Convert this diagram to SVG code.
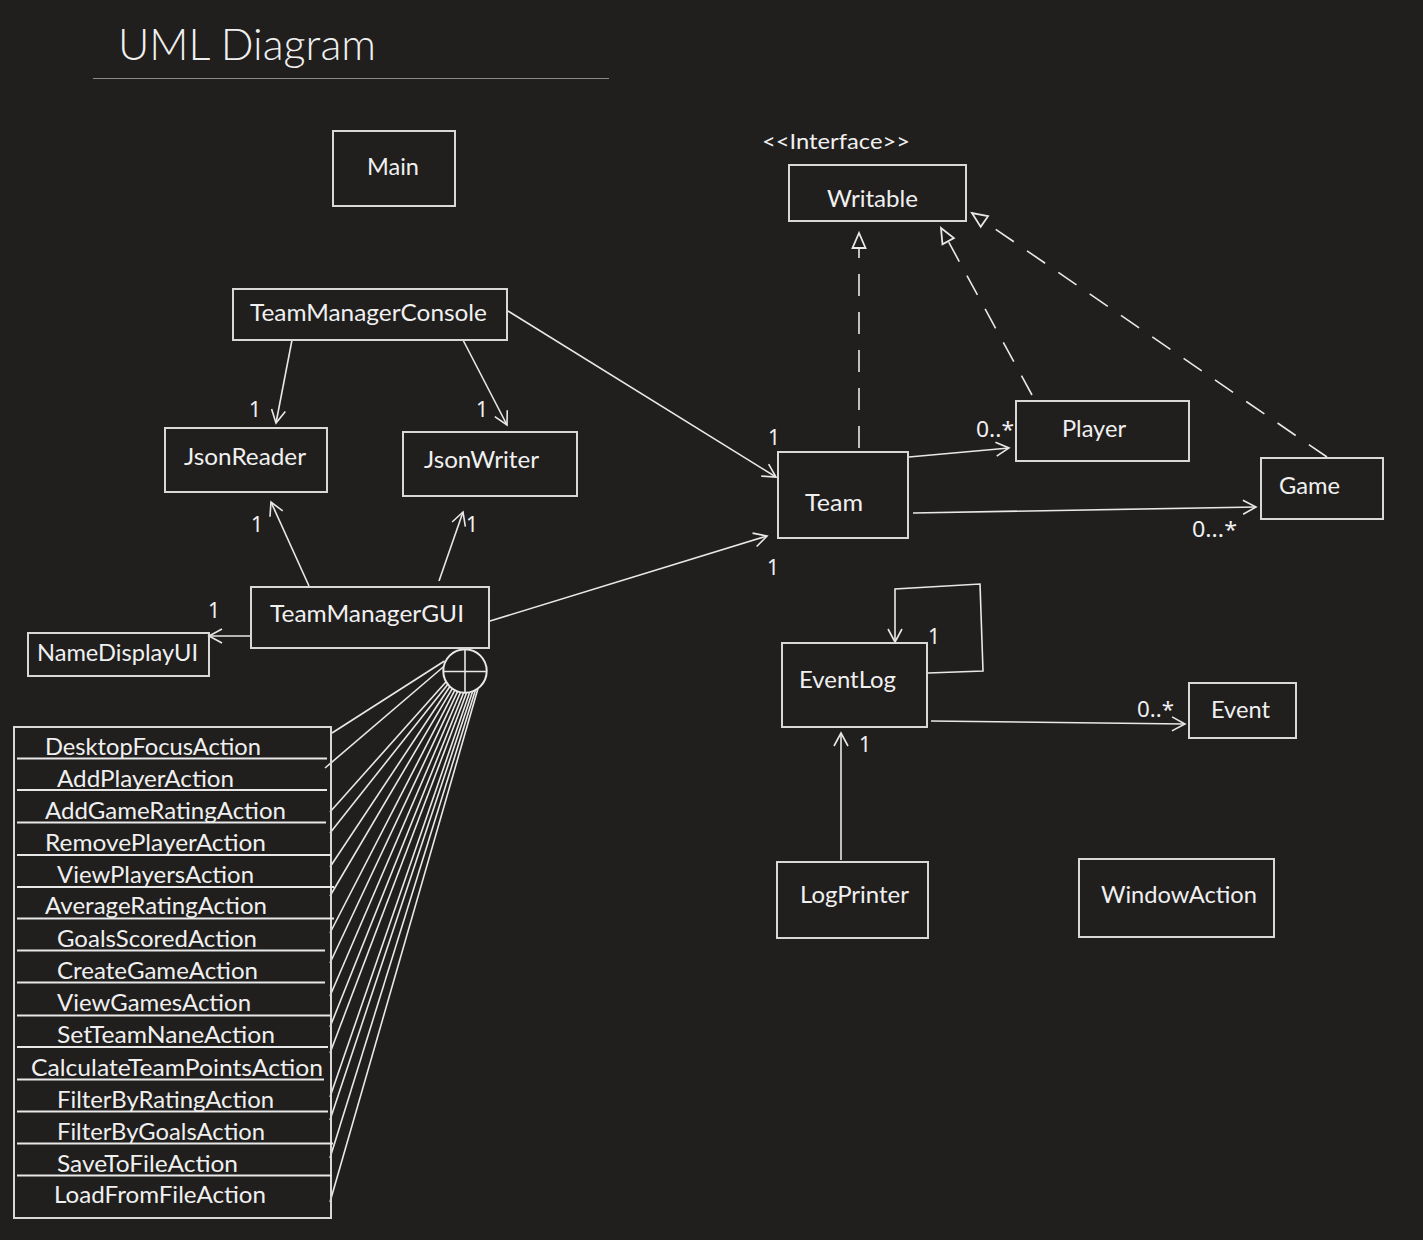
<svg xmlns="http://www.w3.org/2000/svg" width="1423" height="1240" viewBox="0 0 1423 1240">
<style>
text{font-family:Lato,"Liberation Sans",sans-serif;fill:#f0f0f0;font-size:24px}
.box{fill:none;stroke:#d8d8d8;stroke-width:2}
.ln{fill:none;stroke:#e8e8e8;stroke-width:1.6}
.dash{fill:none;stroke:#e8e8e8;stroke-width:1.6;stroke-dasharray:22 16}
.m{font-size:21px;font-family:"Noto Sans","Open Sans",sans-serif}
.sep{stroke:#e8e8e8;stroke-width:2}
.act{font-size:23px}
</style>
<defs>
<marker id="open" markerUnits="userSpaceOnUse" markerWidth="20" markerHeight="20" viewBox="-16 -10 20 20" refX="0" refY="0" orient="auto">
<path d="M-13,-7 L0,0 L-13,7" fill="none" stroke="#e8e8e8" stroke-width="1.6"/>
</marker>
<marker id="tri" markerUnits="userSpaceOnUse" markerWidth="22" markerHeight="22" viewBox="-18 -11 22 22" refX="0" refY="0" orient="auto">
<path d="M-15,-6.5 L0,0 L-15,6.5 Z" fill="#201f1e" stroke="#e8e8e8" stroke-width="1.8"/>
</marker>
</defs>
<rect width="1423" height="1240" fill="#201f1e"/>
<g id="title">
<text x="118" y="60" style="font-size:44px;font-weight:300" textLength="258" lengthAdjust="spacingAndGlyphs">UML Diagram</text>
<line x1="93" y1="78.5" x2="609" y2="78.5" stroke="#8a8a8a" stroke-width="1.2"/>
</g>
<g id="connectors">
<line class="ln" x1="292" y1="340" x2="276" y2="423" marker-end="url(#open)"/>
<line class="ln" x1="463" y1="340" x2="507" y2="425" marker-end="url(#open)"/>
<line class="ln" x1="508" y1="311" x2="776" y2="477" marker-end="url(#open)"/>
<line class="ln" x1="309" y1="586" x2="271" y2="502" marker-end="url(#open)"/>
<line class="ln" x1="439" y1="581" x2="463" y2="512" marker-end="url(#open)"/>
<line class="ln" x1="251" y1="636" x2="209" y2="636" marker-end="url(#open)"/>
<line class="ln" x1="490" y1="621" x2="767" y2="536" marker-end="url(#open)"/>
<line class="ln" x1="909" y1="457" x2="1009" y2="448" marker-end="url(#open)"/>
<line class="ln" x1="913" y1="513" x2="1256" y2="507" marker-end="url(#open)"/>
<line class="dash" x1="859" y1="448" x2="859" y2="233" marker-end="url(#tri)"/>
<line class="dash" x1="1032" y1="395" x2="941" y2="228" marker-end="url(#tri)"/>
<line class="dash" x1="1327" y1="457" x2="972" y2="213" marker-end="url(#tri)"/>
<path class="ln" d="M928,673 L983,671 L980,584 L895,589 L895,642" marker-end="url(#open)"/>
<line class="ln" x1="931" y1="721" x2="1185" y2="724" marker-end="url(#open)"/>
<line class="ln" x1="841" y1="860" x2="841" y2="733" marker-end="url(#open)"/>
<g id="nested-fan" class="ln">
<line x1="444.5" y1="661" x2="332" y2="733"/>
<line x1="443.2" y1="667" x2="325" y2="768"/>
<line x1="445.9" y1="682" x2="330" y2="812"/>
<line x1="447.7" y1="684.5" x2="330" y2="833"/>
<line x1="449.7" y1="686.8" x2="330" y2="867"/>
<line x1="452.1" y1="688.8" x2="330" y2="896"/>
<line x1="454.7" y1="690.4" x2="330" y2="933"/>
<line x1="457.5" y1="691.7" x2="330" y2="963"/>
<line x1="460.4" y1="692.5" x2="330" y2="996"/>
<line x1="463.5" y1="693" x2="330" y2="1027"/>
<line x1="466.5" y1="693" x2="330" y2="1053"/>
<line x1="469.6" y1="692.5" x2="330" y2="1097"/>
<line x1="472.5" y1="691.7" x2="330" y2="1120"/>
<line x1="475.3" y1="690.4" x2="330" y2="1158"/>
<line x1="477.9" y1="688.8" x2="330" y2="1202"/>
</g>
<circle class="ln" cx="465" cy="671" r="21.7" style="stroke-width:2"/>
<line class="ln" x1="465" y1="649.5" x2="465" y2="692.5"/>
<line class="ln" x1="443.5" y1="671.5" x2="486.5" y2="671.5"/>
<g id="multiplicities">
<text x="249" y="417" class="m">1</text>
<text x="476" y="417" class="m">1</text>
<text x="768" y="445" class="m">1</text>
<text x="251" y="532" class="m">1</text>
<text x="466" y="532" class="m">1</text>
<text x="208" y="618" class="m">1</text>
<text x="767" y="575" class="m">1</text>
<text x="976" y="437" class="m" textLength="38" lengthAdjust="spacingAndGlyphs">0..*</text>
<text x="1192" y="537" class="m" textLength="45" lengthAdjust="spacingAndGlyphs">0...*</text>
<text x="928" y="644" class="m">1</text>
<text x="1137" y="717" class="m" textLength="37" lengthAdjust="spacingAndGlyphs">0..*</text>
<text x="859" y="752" class="m">1</text>
</g>
</g>
<g id="Main"><rect class="box" x="333" y="131" width="122" height="75"/><text x="367" y="175" textLength="52" lengthAdjust="spacingAndGlyphs">Main</text></g>
<g id="Writable"><text x="762" y="149" style="font-size:22px" textLength="148" lengthAdjust="spacingAndGlyphs">&lt;&lt;Interface&gt;&gt;</text><rect class="box" x="789" y="165" width="177" height="56"/><text x="827" y="207" textLength="91" lengthAdjust="spacingAndGlyphs">Writable</text></g>
<g id="TeamManagerConsole"><rect class="box" x="233" y="289" width="274" height="51"/><text x="250" y="321" textLength="237" lengthAdjust="spacingAndGlyphs">TeamManagerConsole</text></g>
<g id="JsonReader"><rect class="box" x="165" y="428" width="162" height="64"/><text x="184" y="465" textLength="122" lengthAdjust="spacingAndGlyphs">JsonReader</text></g>
<g id="JsonWriter"><rect class="box" x="403" y="432" width="174" height="64"/><text x="424" y="468" textLength="115" lengthAdjust="spacingAndGlyphs">JsonWriter</text></g>
<g id="Team"><rect class="box" x="778" y="452" width="130" height="86"/><text x="805" y="511" textLength="58" lengthAdjust="spacingAndGlyphs">Team</text></g>
<g id="Player"><rect class="box" x="1016" y="401" width="173" height="60"/><text x="1062" y="437" textLength="64" lengthAdjust="spacingAndGlyphs">Player</text></g>
<g id="Game"><rect class="box" x="1261" y="458" width="122" height="61"/><text x="1279" y="494" textLength="61" lengthAdjust="spacingAndGlyphs">Game</text></g>
<g id="TeamManagerGUI"><rect class="box" x="251" y="587" width="238" height="61"/><text x="270" y="622" textLength="194" lengthAdjust="spacingAndGlyphs">TeamManagerGUI</text></g>
<g id="NameDisplayUI"><rect class="box" x="28" y="633" width="181" height="43"/><text x="37" y="661" textLength="161" lengthAdjust="spacingAndGlyphs">NameDisplayUI</text></g>
<g id="EventLog"><rect class="box" x="782" y="643" width="145" height="84"/><text x="799" y="688" textLength="97" lengthAdjust="spacingAndGlyphs">EventLog</text></g>
<g id="Event"><rect class="box" x="1189" y="683" width="107" height="55"/><text x="1211" y="718" textLength="59" lengthAdjust="spacingAndGlyphs">Event</text></g>
<g id="LogPrinter"><rect class="box" x="777" y="862" width="151" height="76"/><text x="800" y="903" textLength="109" lengthAdjust="spacingAndGlyphs">LogPrinter</text></g>
<g id="WindowAction"><rect class="box" x="1079" y="859" width="195" height="78"/><text x="1101" y="903" textLength="156" lengthAdjust="spacingAndGlyphs">WindowAction</text></g>
<g id="Actions">
<rect class="box" x="14" y="727" width="317" height="491"/>
<line class="sep" x1="17" y1="758.5" x2="327" y2="758.5"/>
<line class="sep" x1="17" y1="790" x2="327" y2="790"/>
<line class="sep" x1="17" y1="822.5" x2="326" y2="822.5"/>
<line class="sep" x1="17" y1="855" x2="331" y2="855"/>
<line class="sep" x1="17" y1="887" x2="334" y2="887"/>
<line class="sep" x1="17" y1="918.5" x2="334" y2="918.5"/>
<line class="sep" x1="17" y1="950.5" x2="325" y2="950.5"/>
<line class="sep" x1="17" y1="982.5" x2="325" y2="982.5"/>
<line class="sep" x1="17" y1="1015.5" x2="330" y2="1015.5"/>
<line class="sep" x1="17" y1="1047" x2="328" y2="1047"/>
<line class="sep" x1="17" y1="1079.5" x2="324" y2="1079.5"/>
<line class="sep" x1="17" y1="1111.5" x2="328" y2="1111.5"/>
<line class="sep" x1="17" y1="1143.5" x2="333" y2="1143.5"/>
<line class="sep" x1="17" y1="1175.5" x2="332" y2="1175.5"/>
<text class="act" x="45" y="755" textLength="216" lengthAdjust="spacingAndGlyphs">DesktopFocusAction</text>
<text class="act" x="57" y="787" textLength="177" lengthAdjust="spacingAndGlyphs">AddPlayerAction</text>
<text class="act" x="45" y="819" textLength="241" lengthAdjust="spacingAndGlyphs">AddGameRatingAction</text>
<text class="act" x="45" y="851" textLength="221" lengthAdjust="spacingAndGlyphs">RemovePlayerAction</text>
<text class="act" x="57" y="883" textLength="197" lengthAdjust="spacingAndGlyphs">ViewPlayersAction</text>
<text class="act" x="45" y="914" textLength="222" lengthAdjust="spacingAndGlyphs">AverageRatingAction</text>
<text class="act" x="57" y="947" textLength="200" lengthAdjust="spacingAndGlyphs">GoalsScoredAction</text>
<text class="act" x="57" y="979" textLength="201" lengthAdjust="spacingAndGlyphs">CreateGameAction</text>
<text class="act" x="57" y="1011" textLength="194" lengthAdjust="spacingAndGlyphs">ViewGamesAction</text>
<text class="act" x="57" y="1043" textLength="218" lengthAdjust="spacingAndGlyphs">SetTeamNaneAction</text>
<text class="act" x="31" y="1076" textLength="292" lengthAdjust="spacingAndGlyphs">CalculateTeamPointsAction</text>
<text class="act" x="57" y="1108" textLength="217" lengthAdjust="spacingAndGlyphs">FilterByRatingAction</text>
<text class="act" x="57" y="1140" textLength="208" lengthAdjust="spacingAndGlyphs">FilterByGoalsAction</text>
<text class="act" x="57" y="1172" textLength="181" lengthAdjust="spacingAndGlyphs">SaveToFileAction</text>
<text class="act" x="54" y="1203" textLength="212" lengthAdjust="spacingAndGlyphs">LoadFromFileAction</text>
</g>
</svg>
